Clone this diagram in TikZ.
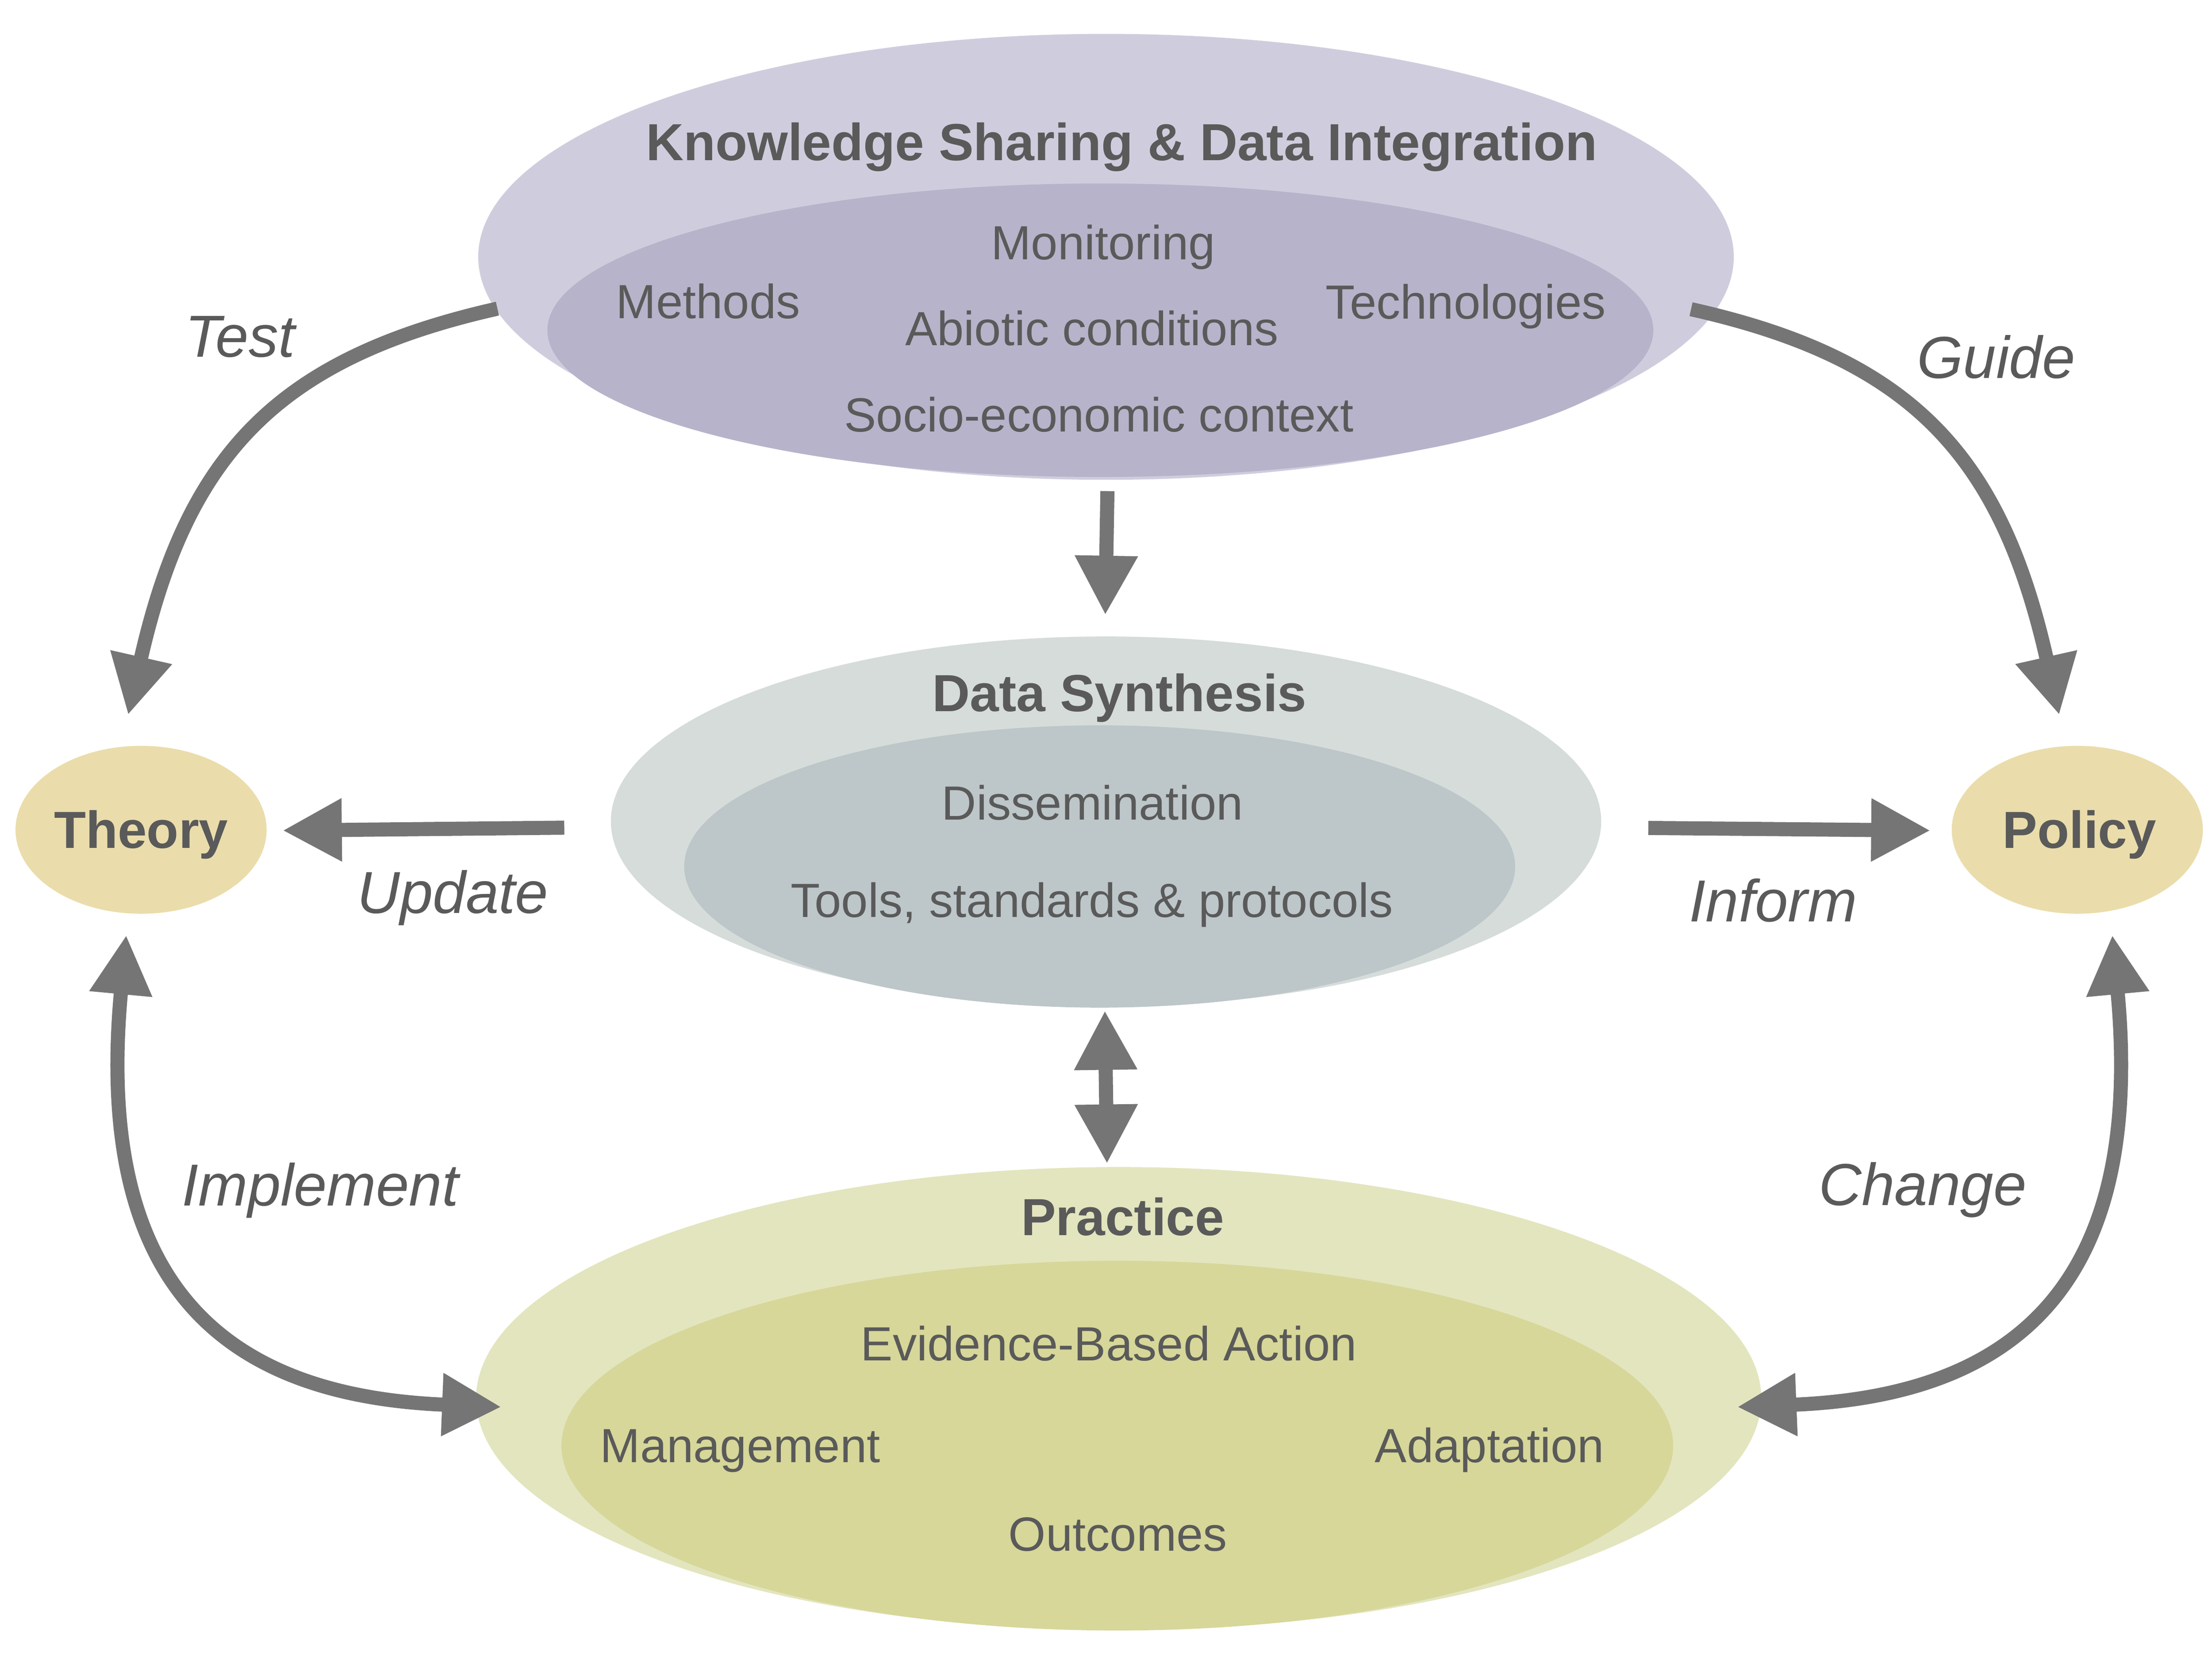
\documentclass[tikz,border=0pt]{standalone}
\usepackage{fontspec}
\setmainfont{Liberation Sans}
\usetikzlibrary{arrows.meta,shapes.geometric}
\definecolor{knowout}{HTML}{CFCDDD}
\definecolor{knowin}{HTML}{B7B3CA}
\definecolor{dataout}{HTML}{D5DCDA}
\definecolor{datain}{HTML}{BDC6C8}
\definecolor{pracout}{HTML}{E3E5BE}
\definecolor{pracin}{HTML}{D6D799}
\definecolor{tpfill}{HTML}{EADDAB}
\definecolor{arrgray}{HTML}{757575}
\definecolor{txtgray}{HTML}{5A5A5A}
\tikzset{
  blob/.style={ellipse, draw=none, inner sep=0pt},
  reg/.style={font=\fontsize{34}{40}\selectfont, text=txtgray, anchor=base, inner sep=0pt},
  bld/.style={font=\fontsize{37}{44}\selectfont\bfseries, text=txtgray, anchor=base, inner sep=0pt},
  ital/.style={font=\fontsize{42}{50}\selectfont\itshape, text=txtgray, anchor=base, inner sep=0pt},
  arr/.style={draw=arrgray, line width=10pt, -{Triangle[length=42pt,width=42pt]}},
  darr/.style={draw=arrgray, line width=10pt, {Triangle[length=42pt,width=42pt]}-{Triangle[length=42pt,width=42pt]}}
}
\begin{document}
\begin{tikzpicture}[x=1pt,y=-1pt]
\path[use as bounding box] (0,0) rectangle (1568,1176);
% ellipses
\node[blob, fill=knowout, minimum width=890pt, minimum height=316pt] (knowO) at (784,182) {};
\node[blob, fill=knowin, minimum width=784pt, minimum height=208pt] (knowI) at (780,234) {};
\node[blob, fill=dataout, minimum width=702pt, minimum height=262pt] (dataO) at (784,582) {};
\node[blob, fill=datain, minimum width=589pt, minimum height=200pt] (dataI) at (779.5,614) {};
\node[blob, fill=pracout, minimum width=911pt, minimum height=328pt] (pracO) at (793,991) {};
\node[blob, fill=pracin, minimum width=788pt, minimum height=262pt] (pracI) at (792,1024.4) {};
\node[blob, fill=tpfill, minimum width=178pt, minimum height=119pt] (theory) at (100,588) {};
\node[blob, fill=tpfill, minimum width=178pt, minimum height=119pt] (policy) at (1472.5,588) {};
% texts
\node[bld] (tKnow) at (795,113.6) {Knowledge Sharing \& Data Integration};
\node[reg] (tMon) at (782,184) {Monitoring};
\node[reg] (tMeth) at (502,225.6) {Methods};
\node[reg] (tTech) at (1039,226) {Technologies};
\node[reg] (tAbio) at (774,244.8) {Abiotic conditions};
\node[reg] (tSocio) at (779,306) {Socio-economic context};
\node[bld] (tData) at (793.6,504) {Data Synthesis};
\node[reg] (tDiss) at (774.4,581) {Dissemination};
\node[reg] (tTools) at (774,650) {Tools, standards \& protocols};
\node[bld] (tTheory) at (100,601) {Theory};
\node[bld] (tPolicy) at (1474,601) {Policy};
\node[bld] (tPrac) at (795.8,875.4) {Practice};
\node[reg] (tEvid) at (786,964) {Evidence-Based Action};
\node[reg] (tMan) at (524.7,1036.2) {Management};
\node[reg] (tAdap) at (1055.9,1036.2) {Adaptation};
\node[reg] (tOut) at (792.4,1098.9) {Outcomes};
% edge labels
\node[ital] (lTest) at (170,253) {Test};
\node[ital] (lGuide) at (1415,268) {Guide};
\node[ital] (lUpdate) at (321,647) {Update};
\node[ital] (lInform) at (1257,653) {Inform};
\node[ital] (lImpl) at (227,854.4) {Implement};
\node[ital] (lChange) at (1363,854.2) {Change};
% connector end points
\coordinate (testS) at (352.6,218.7);
\coordinate (testE) at (90.8,506.6);
\coordinate (guideS) at (1198.7,219.1);
\coordinate (guideE) at (1459.7,506.6);
\coordinate (updS) at (400,586.5);
\coordinate (updE) at (200.3,588.5);
\coordinate (infS) at (1168.4,586.7);
\coordinate (infE) at (1368.4,588.5);
\coordinate (downS) at (785,348);
\coordinate (downE) at (783.5,435.8);
\coordinate (midA) at (783.2,716.1);
\coordinate (midB) at (784.7,824.6);
\coordinate (implA) at (89.5,662.6);
\coordinate (implB) at (355.4,997);
\coordinate (chgA) at (1497.3,662.6);
\coordinate (chgB) at (1231.4,997);
% connectors
\draw[arr] (testS) .. controls (195.2,254.2) and (132.4,323.3) .. (testE);
\draw[arr] (guideS) .. controls (1355.7,254.2) and (1418.5,323.3) .. (guideE);
\draw[arr] (updS) -- (updE);
\draw[arr] (infS) -- (infE);
\draw[arr] (downS) -- (downE);
\draw[darr] (midA) -- (midB);
\draw[darr] (implA) .. controls (67,903.6) and (151.6,988.8) .. (implB);
\draw[darr] (chgA) .. controls (1519.8,903.6) and (1435.2,988.8) .. (chgB);
\end{tikzpicture}
\end{document}
